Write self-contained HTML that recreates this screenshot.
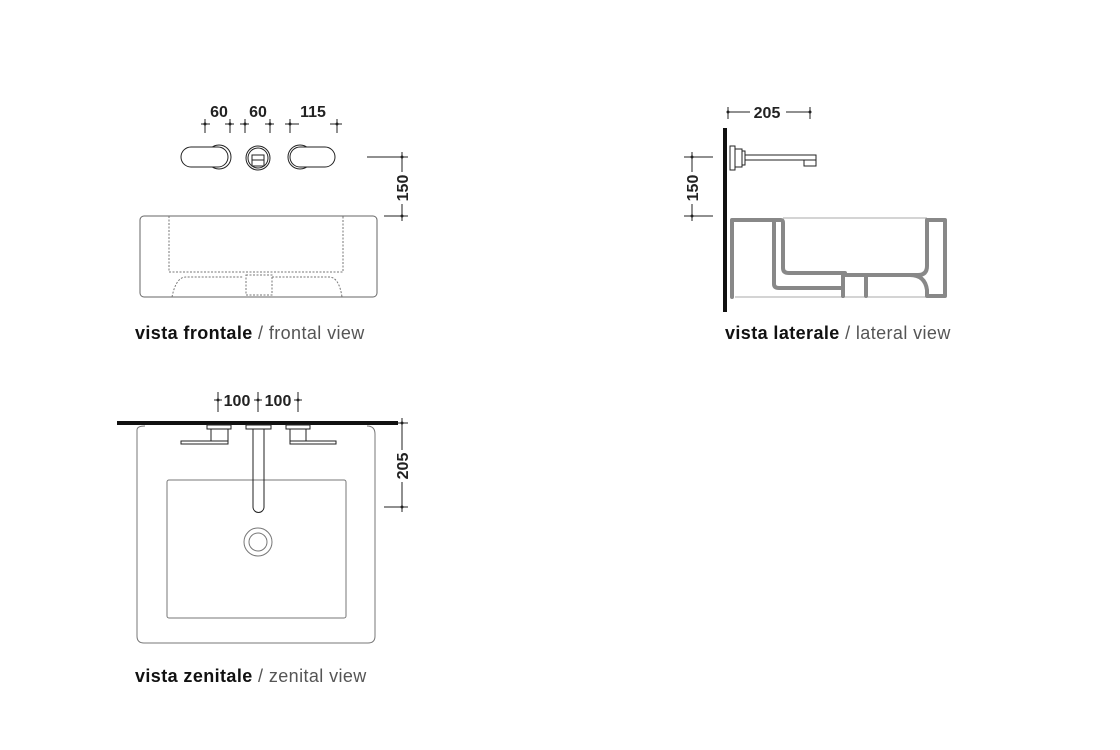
<!DOCTYPE html>
<html><head><meta charset="utf-8"><style>
html,body{margin:0;padding:0;background:#fff;}
svg{display:block}
.d{font-family:"Liberation Sans",sans-serif;font-weight:bold;font-size:16px;fill:#222}
.l{font-family:"Liberation Sans",sans-serif;font-size:18px;fill:#555;letter-spacing:0.4px}
.l tspan.b{font-weight:bold;fill:#111}
</style></head><body>
<svg width="1120" height="750" viewBox="0 0 1120 750" xmlns="http://www.w3.org/2000/svg">
<g stroke="#222" stroke-width="1" fill="none">
<path d="M201 124H210M205 119V133 M225 124H234M230 119V133 M240 124H249M245 119V133 M265 124H274M270 119V133 M285 124H299M290 119V133 M330 124H342M337 119V133"/>
<circle cx="219" cy="157" r="12"/>
<path d="M191 147H218A10 10 0 0 1 218 167H191A10 10 0 0 1 191 147Z" fill="#fff"/>
<circle cx="258" cy="158" r="12"/>
<circle cx="258" cy="158" r="10"/>
<rect x="252" y="155" width="12" height="11"/>
<path d="M252 160H264"/>
<circle cx="300" cy="157" r="12"/>
<path d="M300 147H325A10 10 0 0 1 325 167H300A10 10 0 0 1 300 147Z" fill="#fff"/>
<path d="M367 157H408M402 152V216M384 216H408M402 211V221"/>
<rect x="140" y="216" width="237" height="81" rx="4" stroke="#666"/>
<g stroke="#777" stroke-dasharray="2 1.5">
<path d="M169 216V272H343V216"/>
<path d="M172 297Q176 277 186 277H243 M272 277H329Q339 277 342 297"/>
<rect x="246" y="275" width="26" height="20"/>
</g>
<path d="M725 128V312" stroke="#111" stroke-width="4"/>
<path d="M728 112H810M728 107V119M810 107V119"/>
<path d="M684 157H713M692 152V221M684 216H713"/>
<rect x="730" y="146" width="5" height="24"/>
<rect x="735" y="149" width="7" height="18"/>
<rect x="742" y="151" width="3" height="14"/>
<rect x="745" y="155" width="71" height="5"/>
<rect x="804" y="160" width="12" height="6"/>
<path d="M783 218H927M735 297H945" stroke="#aaa"/>
<g stroke="#888" stroke-width="4" stroke-linejoin="round" stroke-linecap="round">
<path d="M732 297V220H781Q783 220 783 223V268Q783 273 789 273H845"/>
<path d="M774 222V284Q774 288 779 288H843V296"/>
<path d="M843 296V275H866V296"/>
<path d="M866 275H918Q927 275 927 266V220H945V296H927V290Q925 275 910 275"/>
</g>
<path d="M117 423H398" stroke="#111" stroke-width="4"/>
<path d="M218 392V412M214 400H222M258 392V412M254 400H262M298 392V412M294 400H302"/>
<path d="M398 423H408M402 418V512M384 507H408"/>
<path d="M137 430Q137 426 145 426M367 426Q375 426 375 434V636Q375 643 368 643H144Q137 643 137 636V430" stroke="#777"/>
<rect x="167" y="480" width="179" height="138" rx="2" stroke="#777"/>
<rect x="207" y="425" width="24" height="4"/>
<rect x="211" y="429" width="17" height="12"/>
<rect x="181" y="441" width="47" height="3"/>
<rect x="246" y="425" width="25" height="4"/>
<path d="M253 429V507A5.5 5.5 0 0 0 264 507V429"/>
<rect x="286" y="425" width="24" height="4"/>
<rect x="290" y="429" width="16" height="12"/>
<rect x="290" y="441" width="46" height="3"/>
<circle cx="258" cy="542" r="14" stroke="#777"/>
<circle cx="258" cy="542" r="9" stroke="#777"/>
</g>
<g fill="#222" stroke="none">
<circle cx="205" cy="124" r="1.5"/><circle cx="230" cy="124" r="1.5"/><circle cx="245" cy="124" r="1.5"/><circle cx="270" cy="124" r="1.5"/><circle cx="290" cy="124" r="1.5"/><circle cx="337" cy="124" r="1.5"/>
<circle cx="402" cy="157" r="1.5"/><circle cx="402" cy="216" r="1.5"/>
<circle cx="728" cy="112" r="1.5"/><circle cx="810" cy="112" r="1.5"/>
<circle cx="692" cy="157" r="1.5"/><circle cx="692" cy="216" r="1.5"/>
<circle cx="218" cy="400" r="1.5"/><circle cx="258" cy="400" r="1.5"/><circle cx="298" cy="400" r="1.5"/>
<circle cx="402" cy="423" r="1.5"/><circle cx="402" cy="507" r="1.5"/>
</g>
<rect x="750" y="102" width="36" height="18" fill="#fff"/>
<rect x="394" y="172" width="16" height="32" fill="#fff"/>
<rect x="684" y="172" width="16" height="32" fill="#fff"/>
<rect x="394" y="450" width="16" height="32" fill="#fff"/>
<text class="d" x="219" y="117" text-anchor="middle">60</text>
<text class="d" x="258" y="117" text-anchor="middle">60</text>
<text class="d" x="313" y="117" text-anchor="middle">115</text>
<text class="d" x="767" y="118" text-anchor="middle">205</text>
<text class="d" x="237" y="406" text-anchor="middle">100</text>
<text class="d" x="278" y="406" text-anchor="middle">100</text>
<text class="d" transform="translate(408 188) rotate(-90)" text-anchor="middle">150</text>
<text class="d" transform="translate(698 188) rotate(-90)" text-anchor="middle">150</text>
<text class="d" transform="translate(408 466) rotate(-90)" text-anchor="middle">205</text>
<text class="l" x="135" y="339"><tspan class="b">vista frontale</tspan> / frontal view</text>
<text class="l" x="725" y="339"><tspan class="b">vista laterale</tspan> / lateral view</text>
<text class="l" x="135" y="682"><tspan class="b">vista zenitale</tspan> / zenital view</text>
</svg>
</body></html>
